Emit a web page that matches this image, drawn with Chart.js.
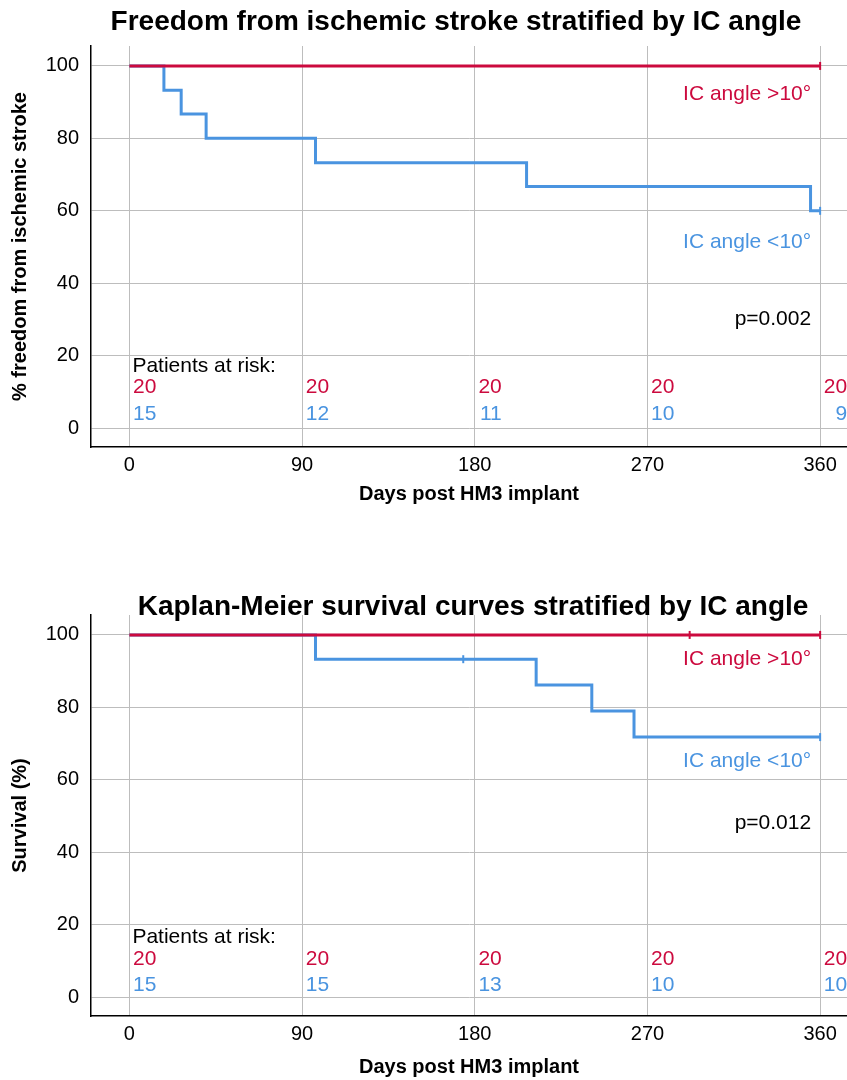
<!DOCTYPE html>
<html>
<head>
<meta charset="utf-8">
<title>IC angle – Kaplan-Meier</title>
<script src="https://cdn.jsdelivr.net/npm/chart.js@4.4.0/dist/chart.umd.min.js"></script>
<style>
  html, body { margin: 0; padding: 0; background: #fff; overflow: hidden; }
  canvas { display: block; }
</style>
</head>
<body>
<canvas id="chart-stroke" width="847" height="540"></canvas>
<canvas id="chart-survival" width="847" height="540"></canvas>
<script>
// ── Shared
const FONT = '"Liberation Sans", Arial, Helvetica, sans-serif';
const RED  = '#cc0a3e';
const BLUE = '#4a94e0';
const GRID = '#bdbdbd';

const dayTicks = [0, 90, 180, 270, 360];
const pctTicks = [0, 20, 40, 60, 80, 100];

// ── Freedom from ischemic stroke
const strokeHighDays = [0, 360];
const strokeHighPct  = [100, 100];
const strokeLowDays  = [0, 18, 27, 40, 97, 207, 355, 360];
const strokeLowPct   = [100, 93.3, 86.7, 80, 73.3, 66.7, 60, 60];
const strokeHighCensDays = [360];
const strokeHighCensPct  = [100];
const strokeLowCensDays  = [360];
const strokeLowCensPct   = [60];
const strokeRiskHigh = [20, 20, 20, 20, 20];
const strokeRiskLow  = [15, 12, 11, 10, 9];

// ── Survival
const survHighDays = [0, 360];
const survHighPct  = [100, 100];
const survLowDays  = [0, 97, 212, 241, 263, 360];
const survLowPct   = [100, 93.3, 86.2, 79.0, 71.8, 71.8];
const survHighCensDays = [292, 360];
const survHighCensPct  = [100, 100];
const survLowCensDays  = [174, 360];
const survLowCensPct   = [93.3, 71.8];
const survRiskHigh = [20, 20, 20, 20, 20];
const survRiskLow  = [15, 15, 13, 10, 10];

const pts = (xs, ys) => xs.map((x, i) => ({ x, y: ys[i] }));

// titles, group labels, p value and the at-risk table
const kmText = {
  id: 'kmText',
  afterDraw(chart, _args, o) {
    const { ctx, scales: { x, y } } = chart;
    ctx.save();
    ctx.textBaseline = 'middle';

    ctx.fillStyle = '#000';
    ctx.font = `bold 28px ${FONT}`;
    ctx.textAlign = 'center';
    ctx.fillText(o.title, o.titleX, o.titleY);

    ctx.font = `21px ${FONT}`;
    ctx.textAlign = 'right';
    const lx = x.getPixelForValue(360) - 9;
    ctx.fillStyle = RED;  ctx.fillText('IC angle >10°', lx, y.getPixelForValue(o.labelY[0]));
    ctx.fillStyle = BLUE; ctx.fillText('IC angle <10°', lx, y.getPixelForValue(o.labelY[1]));
    ctx.fillStyle = '#000'; ctx.fillText(o.pText, lx, y.getPixelForValue(o.labelY[2]));

    ctx.textAlign = 'left';
    ctx.fillText('Patients at risk:', x.getPixelForValue(0) + 3, y.getPixelForValue(o.riskY[0]));
    ctx.textAlign = 'right';
    dayTicks.forEach((d, i) => {
      const px = x.getPixelForValue(d) + 27;
      ctx.fillStyle = RED;  ctx.fillText(String(o.riskHigh[i]), px, y.getPixelForValue(o.riskY[1]));
      ctx.fillStyle = BLUE; ctx.fillText(String(o.riskLow[i]),  px, y.getPixelForValue(o.riskY[2]));
    });
    ctx.restore();
  }
};

function kmChart(id, c) {
  const line = (data, color, order) => ({
    data, borderColor: color, borderWidth: 3, stepped: true,
    pointRadius: 0, fill: false, order,
  });
  const cens = (data, color, order) => ({
    data, showLine: false, borderColor: color, backgroundColor: color,
    pointStyle: 'line', rotation: 90, pointRadius: 4, pointBorderWidth: 2, order,
  });

  return new Chart(document.getElementById(id), {
    type: 'line',
    data: {
      datasets: [
        line(pts(c.highDays, c.highPct), RED, 0),
        cens(pts(c.highCensDays, c.highCensPct), RED, 0),
        line(pts(c.lowDays, c.lowPct), BLUE, 1),
        cens(pts(c.lowCensDays, c.lowCensPct), BLUE, 1),
      ]
    },
    options: {
      responsive: false,
      animation: false,
      layout: { autoPadding: false, padding: { top: c.top, right: 0, bottom: 0, left: 0 } },
      plugins: {
        legend: { display: false },
        tooltip: { enabled: false },
        kmText: c.text,
      },
      scales: {
        x: {
          type: 'linear', min: -20, max: 374,
          afterBuildTicks: s => { s.ticks = dayTicks.map(v => ({ value: v })); },
          afterFit: s => { s.height = c.xHeight; s.paddingLeft = 0; s.paddingRight = 0; },
          grid: { color: GRID, lineWidth: 1, drawTicks: false },
          border: { display: true, color: '#000', width: 1.5 },
          ticks: { color: '#000', font: { family: FONT, size: 20 }, padding: 6, maxRotation: 0 },
          title: { display: true, text: 'Days post HM3 implant', color: '#000',
                   font: { family: FONT, size: 20, weight: 'bold' }, padding: { top: 0, bottom: c.xTitlePad } },
        },
        y: {
          min: -5.2, max: 105.5,
          afterBuildTicks: s => { s.ticks = pctTicks.map(v => ({ value: v })); },
          afterFit: s => { s.width = 91; },
          grid: { color: GRID, lineWidth: 1, drawTicks: false },
          border: { display: true, color: '#000', width: 1.5 },
          ticks: { color: '#000', font: { family: FONT, size: 20 }, padding: 12 },
          title: { display: true, text: c.yTitle, color: '#000',
                   font: { family: FONT, size: 20, weight: 'bold' }, padding: { top: 8, bottom: 0 } },
        },
      }
    },
    plugins: [kmText],
  });
}

// ── Init
kmChart('chart-stroke', {
  highDays: strokeHighDays, highPct: strokeHighPct,
  lowDays: strokeLowDays, lowPct: strokeLowPct,
  highCensDays: strokeHighCensDays, highCensPct: strokeHighCensPct,
  lowCensDays: strokeLowCensDays, lowCensPct: strokeLowCensPct,
  top: 46, xHeight: 93, xTitlePad: 34,
  yTitle: '% freedom from ischemic stroke',
  text: {
    title: 'Freedom from ischemic stroke stratified by IC angle', titleX: 456, titleY: 22,
    labelY: [92.2, 51.4, 30.2], pText: 'p=0.002',
    riskY: [17.1, 11.3, 3.8], riskHigh: strokeRiskHigh, riskLow: strokeRiskLow,
  },
});

kmChart('chart-survival', {
  highDays: survHighDays, highPct: survHighPct,
  lowDays: survLowDays, lowPct: survLowPct,
  highCensDays: survHighCensDays, highCensPct: survHighCensPct,
  lowCensDays: survLowCensDays, lowCensPct: survLowCensPct,
  top: 75, xHeight: 64, xTitlePad: 1,
  yTitle: 'Survival (%)',
  text: {
    title: 'Kaplan-Meier survival curves stratified by IC angle', titleX: 473, titleY: 67,
    labelY: [93.3, 65.1, 47.9], pText: 'p=0.012',
    riskY: [16.6, 10.5, 3.4], riskHigh: survRiskHigh, riskLow: survRiskLow,
  },
});
</script>
</body>
</html>
